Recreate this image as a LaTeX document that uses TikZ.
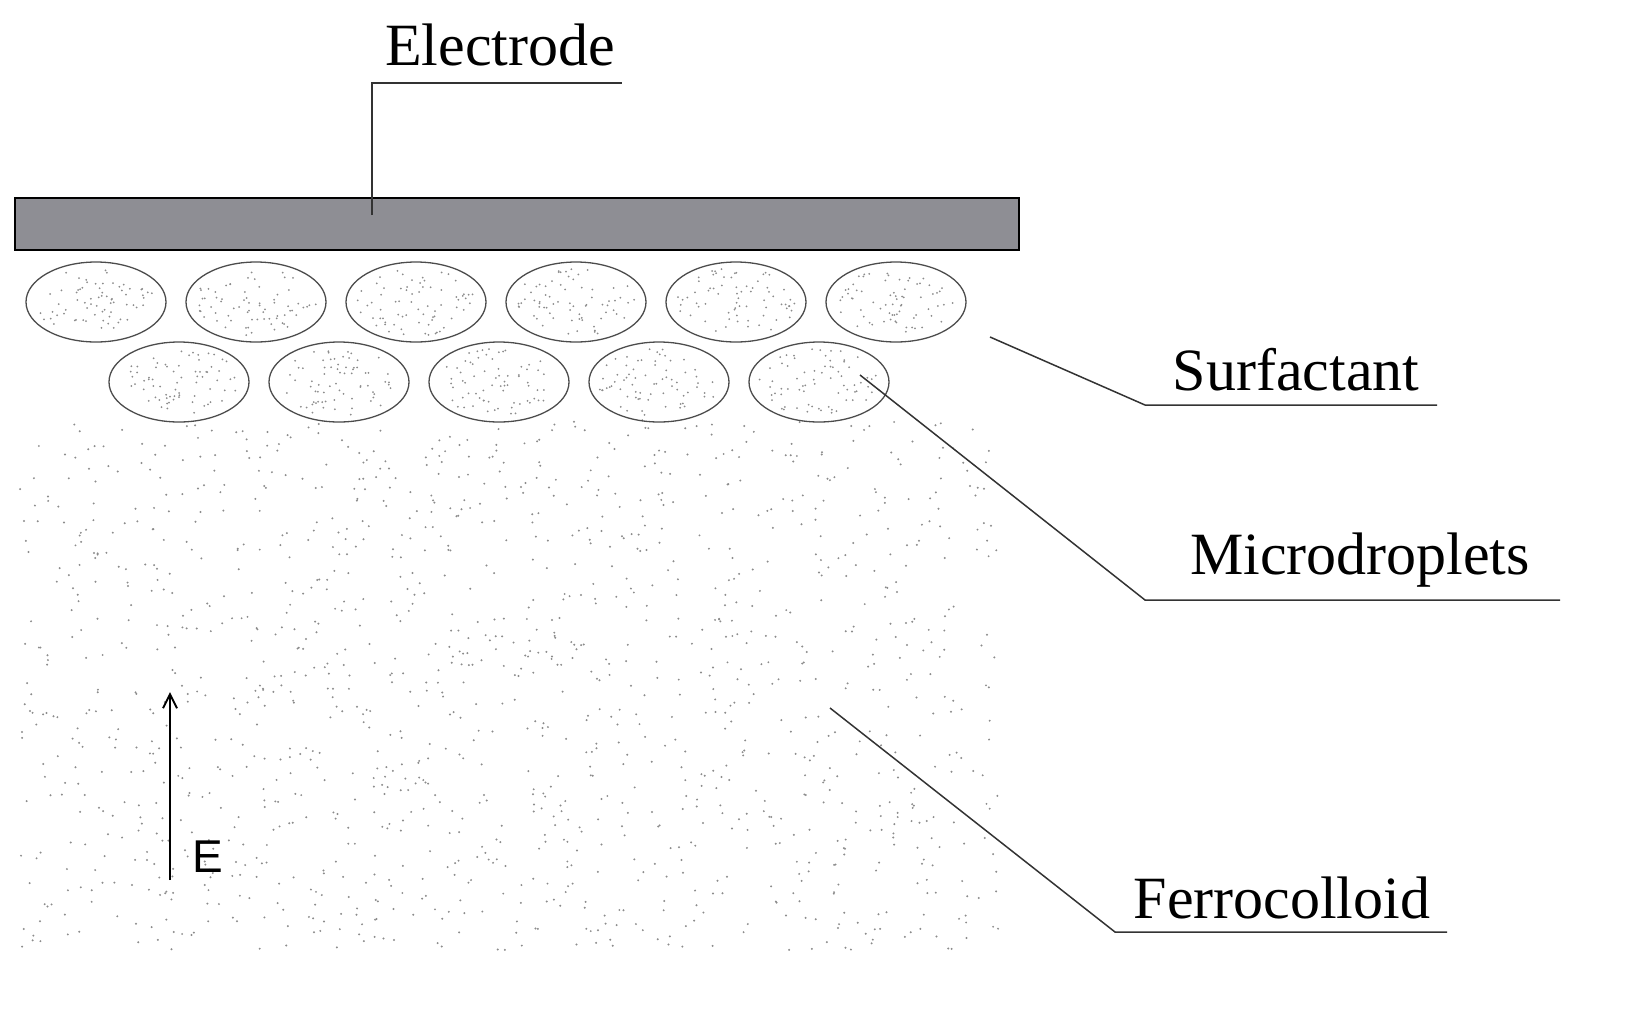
\documentclass[tikz,border=0pt]{standalone}
\usepackage{fontspec}
\setmainfont{Liberation Serif}
\newfontfamily\sansE{Liberation Sans}
\usetikzlibrary{arrows.meta,shapes.geometric}
\definecolor{elgray}{RGB}{142,142,148}
\begin{document}
\begin{tikzpicture}[x=1pt,y=-1pt,
  drop/.style={draw=black!70,line width=1.3pt},
  lead/.style={draw=black!80,line width=1.5pt},
  lbl/.style={font=\fontsize{60}{66}\selectfont,inner sep=0pt},
  dot/.style={fill=black!45}]
\useasboundingbox (0,0) rectangle (1651,1010);
\pgfmathsetseed{7}
% background stipple
\foreach \i in {1,...,1400}{
  \pgfmathsetmacro\px{20+980*rnd}
  \pgfmathsetmacro\py{420+530*rnd}
  \fill[dot] (\px,\py) circle (1.1pt);
}
% electrode
\node[draw=black,line width=1.5pt,fill=elgray,minimum width=1004pt,minimum height=52pt,inner sep=0pt,anchor=north west] (el) at (14,197) {};
\coordinate (eltop) at (372,215);
\coordinate (elbend) at (372,83);
\coordinate (elend) at (622,83);
\node[lbl] (elt) at (500,45) {Electrode};
\draw[lead] (eltop) -- (elbend) -- (elend);
% droplets
\foreach \n/\cx/\cy in {a1/96/302,a2/256/302,a3/416/302,a4/576/302,a5/736/302,a6/896/302,b1/179/382,b2/339/382,b3/499/382,b4/659/382,b5/819/382}{
  \node[drop,ellipse,minimum width=140pt,minimum height=80pt,inner sep=0pt] (\n) at (\cx,\cy) {};
  \foreach \k in {1,...,70}{
    \pgfmathsetmacro\ang{360*rnd}
    \pgfmathsetmacro\rr{0.92*sqrt(rnd)}
    \fill[dot] ({\cx+66*\rr*cos(\ang)},{\cy+37*\rr*sin(\ang)}) circle (1pt);
  }
}
% labels
\node[lbl] (sur) at (1296,370) {Surfactant};
\coordinate (s0) at (990,337); \coordinate (s1) at (1145,405); \coordinate (s2) at (1437,405);
\draw[lead] (s0) -- (s1) -- (s2);
\node[lbl] (mic) at (1360,560) {Microdroplets};
\coordinate (m0) at (860,375); \coordinate (m1) at (1145,600); \coordinate (m2) at (1560,600);
\draw[lead] (m0) -- (m1) -- (m2);
\node[lbl] (fer) at (1282,898) {Ferrocolloid};
\coordinate (f0) at (830,708); \coordinate (f1) at (1115,932); \coordinate (f2) at (1447,932);
\draw[lead] (f0) -- (f1) -- (f2);
% field arrow
\coordinate (e0) at (170,880); \coordinate (e1) at (170,692);
\draw[line width=2pt,-{Straight Barb[length=14pt,width=14pt]}] (e0) -- (e1);
\node[font=\sansE\fontsize{46}{50}\selectfont,inner sep=0pt] (E) at (208,857) {E};
\end{tikzpicture}
\end{document}
